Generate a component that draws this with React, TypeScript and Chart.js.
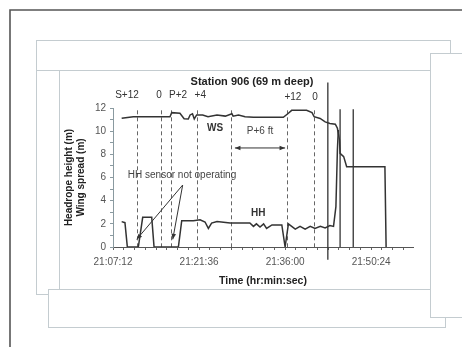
import React, { useEffect, useRef } from "react";
import { Chart, registerables } from "chart.js";

Chart.register(...registerables);

// Time axis in minutes after 21:07:12
const xTickValues = [0, 14.4, 28.8, 43.2];
const xTickLabels = ["21:07:12", "21:21:36", "21:36:00", "21:50:24"];
const yTickValues = [0, 2, 4, 6, 8, 10, 12];

// Wing spread (WS)
const wsX = [1.45, 3.4, 9.54, 9.82, 11.2, 11.9, 12.6, 12.9, 13.3, 13.6, 14.0, 15.0, 15.9, 17.4, 18.8, 19.9, 20.1, 21.0, 22.1, 23.5, 28.5, 29.35, 29.9, 32.4, 33.3, 33.65, 34.66, 35.5, 36.3, 37.2, 37.55, 37.9, 38.0, 38.6, 39.1, 45.5, 45.7];
const wsY = [11.11, 11.25, 11.25, 11.6, 11.55, 11.08, 11.05, 11.4, 11.5, 11.05, 11.4, 11.4, 11.25, 11.4, 11.3, 11.5, 11.3, 11.4, 11.25, 11.2, 11.2, 11.55, 11.8, 11.8, 11.6, 11.25, 11.1, 10.8, 10.67, 10.6, 10.25, 9.24, 8.09, 7.8, 6.93, 6.93, 0];

// Headrope height (HH)
const hhX = [1.45, 2.0, 2.4, 4.24, 4.97, 6.48, 6.87, 10.94, 11.5, 13.45, 14.57, 15.4, 15.96, 16.5, 17.4, 19.6, 22.9, 23.5, 24.0, 24.6, 25.2, 25.7, 26.6, 27.4, 28.25, 28.8, 29.35, 29.9, 30.5, 31.3, 32.15, 33.0, 33.8, 34.7, 35.5, 36.3, 36.9, 37.3, 37.55, 37.7];
const hhY = [2.19, 2.1, 0, 0, 2.56, 2.56, 0, 0, 2.27, 2.27, 2.35, 2.16, 1.61, 2.07, 2.2, 2.07, 2.07, 1.78, 2.0, 1.72, 2.0, 1.6, 1.9, 1.9, 1.9, 0, 2.0, 1.78, 1.55, 1.78, 1.55, 1.78, 1.6, 1.78, 1.65, 1.85, 1.78, 3.48, 8.37, 10.1];

// Vertical marker lines
const dashedLineX = [3.97, 8.04, 9.71, 14.0, 19.76, 29.1, 33.65];
const dashedLineTop = 11.8;
const solidLineX = [35.95, 38.0, 40.2];
const solidLineTop = [14.2, 11.9, 11.9];
const solidLineBottom = [-1.1, 0, 0];

// Phase labels above the plot
const phaseLabels = ["S+12", "0", "P+2", "+4", "+12", "0"];
const phaseLabelX = [2.34, 7.7, 10.9, 14.6, 30.1, 33.8];
const phaseLabelY = [13.1, 13.1, 13.1, 13.1, 12.95, 12.95];

// Annotation anchors (data units)
const wsLabel = { text: "WS", x: 17.08, y: 10.27 };
const hhLabel = { text: "HH", x: 24.3, y: 2.94 };
const pLabel = { text: "P+6 ft", x: 24.6, y: 10.0 };
const pArrow = { x1: 20.4, x2: 28.8, y: 8.55 };
const sensorLabel = { text: "HH sensor not operating", x: 11.55, y: 6.2 };
const sensorArrowTail = { x: 11.66, y: 5.35 };
const sensorArrowHeads = [{ x: 3.97, y: 0.66 }, { x: 10.0, y: 0.66 }];

const FONT = "'Liberation Sans', Arial, sans-serif";

function toPoints(xs: number[], ys: number[]) {
  return xs.map((x, i) => ({ x, y: ys[i] }));
}

function arrowHead(ctx: CanvasRenderingContext2D, x1: number, y1: number, x2: number, y2: number, size: number) {
  const a = Math.atan2(y2 - y1, x2 - x1);
  ctx.beginPath();
  ctx.moveTo(x2, y2);
  ctx.lineTo(x2 - size * Math.cos(a - 0.4), y2 - size * Math.sin(a - 0.4));
  ctx.lineTo(x2 - size * Math.cos(a + 0.4), y2 - size * Math.sin(a + 0.4));
  ctx.closePath();
  ctx.fill();
}

const framePlugin = {
  id: "frames",
  beforeDraw(chart: any) {
    const ctx = chart.ctx as CanvasRenderingContext2D;
    ctx.save();
    ctx.fillStyle = "#ffffff";
    ctx.fillRect(0, 0, chart.width, chart.height);
    // light frames
    ctx.strokeStyle = "#c4ccd0";
    ctx.lineWidth = 1;
    ctx.strokeRect(36.5, 40.5, 414, 254);
    ctx.beginPath();
    ctx.moveTo(36.5, 70.5);
    ctx.lineTo(430, 70.5);
    ctx.moveTo(59.5, 70.5);
    ctx.lineTo(59.5, 289);
    ctx.stroke();
    // bottom box
    ctx.fillStyle = "#ffffff";
    ctx.fillRect(48.5, 289.5, 397, 38);
    ctx.strokeRect(48.5, 289.5, 397, 38);
    // right box
    ctx.fillRect(430.5, 53.5, 40, 264);
    ctx.strokeRect(430.5, 53.5, 40, 264);
    // dark outer border
    ctx.strokeStyle = "#555555";
    ctx.lineWidth = 1.6;
    ctx.beginPath();
    ctx.moveTo(10, 347);
    ctx.lineTo(10, 10);
    ctx.lineTo(462, 10);
    ctx.stroke();
    ctx.restore();
  },
};

const annotationPlugin = {
  id: "annotations",
  beforeDatasetsDraw(chart: any) {
    const ctx = chart.ctx as CanvasRenderingContext2D;
    const xs = chart.scales.x;
    const ys = chart.scales.y;
    ctx.save();
    ctx.strokeStyle = "#666666";
    ctx.lineWidth = 1;
    ctx.setLineDash([4, 3]);
    dashedLineX.forEach((v) => {
      const px = Math.round(xs.getPixelForValue(v)) + 0.5;
      ctx.beginPath();
      ctx.moveTo(px, ys.getPixelForValue(dashedLineTop));
      ctx.lineTo(px, ys.getPixelForValue(0));
      ctx.stroke();
    });
    ctx.setLineDash([]);
    ctx.strokeStyle = "#333333";
    ctx.lineWidth = 1.3;
    solidLineX.forEach((v, i) => {
      const px = xs.getPixelForValue(v);
      ctx.beginPath();
      ctx.moveTo(px, ys.getPixelForValue(solidLineTop[i]));
      ctx.lineTo(px, ys.getPixelForValue(solidLineBottom[i]));
      ctx.stroke();
    });
    ctx.restore();
  },
  afterDatasetsDraw(chart: any) {
    const ctx = chart.ctx as CanvasRenderingContext2D;
    const xs = chart.scales.x;
    const ys = chart.scales.y;
    const area = chart.chartArea;
    const X = (v: number) => xs.getPixelForValue(v);
    const Y = (v: number) => ys.getPixelForValue(v);
    ctx.save();
    ctx.textAlign = "center";
    ctx.textBaseline = "middle";
    // title
    ctx.fillStyle = "#222222";
    ctx.font = `bold 11px ${FONT}`;
    ctx.fillText("Station 906 (69 m deep)", area.left + 139, area.top - 26);
    // phase labels
    ctx.font = `10px ${FONT}`;
    ctx.fillStyle = "#333333";
    phaseLabels.forEach((t, i) => ctx.fillText(t, X(phaseLabelX[i]), Y(phaseLabelY[i])));
    // series labels
    ctx.font = `bold 10px ${FONT}`;
    ctx.fillText(wsLabel.text, X(wsLabel.x), Y(wsLabel.y));
    ctx.fillText(hhLabel.text, X(hhLabel.x), Y(hhLabel.y));
    ctx.font = `10px ${FONT}`;
    ctx.fillStyle = "#444444";
    ctx.fillText(pLabel.text, X(pLabel.x), Y(pLabel.y));
    ctx.fillText(sensorLabel.text, X(sensorLabel.x), Y(sensorLabel.y));
    // double arrow
    ctx.strokeStyle = "#333333";
    ctx.fillStyle = "#333333";
    ctx.lineWidth = 1;
    const ax1 = X(pArrow.x1), ax2 = X(pArrow.x2), ay = Y(pArrow.y);
    ctx.beginPath();
    ctx.moveTo(ax1, ay);
    ctx.lineTo(ax2, ay);
    ctx.stroke();
    arrowHead(ctx, ax2, ay, ax1, ay, 6);
    arrowHead(ctx, ax1, ay, ax2, ay, 6);
    // sensor arrows
    const tx = X(sensorArrowTail.x), ty = Y(sensorArrowTail.y);
    sensorArrowHeads.forEach((h) => {
      const hx = X(h.x), hy = Y(h.y);
      ctx.beginPath();
      ctx.moveTo(tx, ty);
      ctx.lineTo(hx, hy);
      ctx.stroke();
      arrowHead(ctx, tx, ty, hx, hy, 6);
    });
    ctx.restore();
  },
};

export default function App() {
  const canvasRef = useRef<HTMLCanvasElement | null>(null);

  useEffect(() => {
    if (!canvasRef.current) return;
    const minorX: number[] = [];
    for (let v = 0; v <= 50.2 + 1e-9; v += 1.8) minorX.push(Math.round(v * 10) / 10);
    const minorY: number[] = [];
    for (let v = 0; v <= 12; v += 1) minorY.push(v);

    const chart = new Chart(canvasRef.current, {
      type: "line",
      data: {
        datasets: [
          {
            label: "WS",
            data: toPoints(wsX, wsY),
            borderColor: "#333333",
            borderWidth: 1.5,
            pointRadius: 0,
            tension: 0,
            fill: false,
          },
          {
            label: "HH",
            data: toPoints(hhX, hhY),
            borderColor: "#333333",
            borderWidth: 1.5,
            pointRadius: 0,
            tension: 0,
            fill: false,
          },
        ],
      },
      options: {
        animation: false,
        responsive: false,
        maintainAspectRatio: false,
        layout: { padding: { left: 63, right: 49, top: 108, bottom: 60 } },
        plugins: {
          legend: { display: false },
          tooltip: { enabled: false },
          title: { display: false },
        },
        scales: {
          x: {
            type: "linear",
            min: 0,
            max: 50.2,
            afterFit: (s: any) => {
              s.height = 40;
            },
            afterBuildTicks: (s: any) => {
              s.ticks = minorX.map((v) => ({ value: v }));
            },
            border: { display: true, color: "#555555", width: 1 },
            grid: { drawOnChartArea: false, tickLength: 3, color: "#666666" },
            ticks: {
              autoSkip: false,
              maxRotation: 0,
              padding: 6,
              color: "#555555",
              font: { family: FONT, size: 10 },
              callback: (value: any) => {
                const i = xTickValues.findIndex((t) => Math.abs(t - Number(value)) < 1e-6);
                return i >= 0 ? xTickLabels[i] : "";
              },
            },
            title: {
              display: true,
              text: "Time (hr:min:sec)",
              color: "#222222",
              font: { family: FONT, size: 10.5, weight: "bold" },
              padding: 0,
            },
          },
          y: {
            min: 0,
            max: 12,
            afterFit: (s: any) => {
              s.width = 50;
            },
            afterBuildTicks: (s: any) => {
              s.ticks = minorY.map((v) => ({ value: v }));
            },
            border: { display: true, color: "#8a9aa0", width: 1 },
            grid: { drawOnChartArea: false, tickLength: 3, color: "#8a9aa0" },
            ticks: {
              autoSkip: false,
              padding: 4,
              color: "#555555",
              font: { family: FONT, size: 10 },
              callback: (value: any) => (yTickValues.includes(Number(value)) ? String(value) : ""),
            },
            title: {
              display: true,
              text: ["Headrope height (m)", "Wing spread (m)"],
              color: "#222222",
              font: { family: FONT, size: 10, weight: "bold" },
              padding: 0,
            },
          },
        },
      },
      plugins: [framePlugin, annotationPlugin],
    });
    return () => chart.destroy();
  }, []);

  return (
    <div style={{ position: "fixed", left: 0, top: 0, width: 462, height: 347, background: "#fff" }}>
      <canvas ref={canvasRef} width={462} height={347} style={{ display: "block" }} />
    </div>
  );
}
